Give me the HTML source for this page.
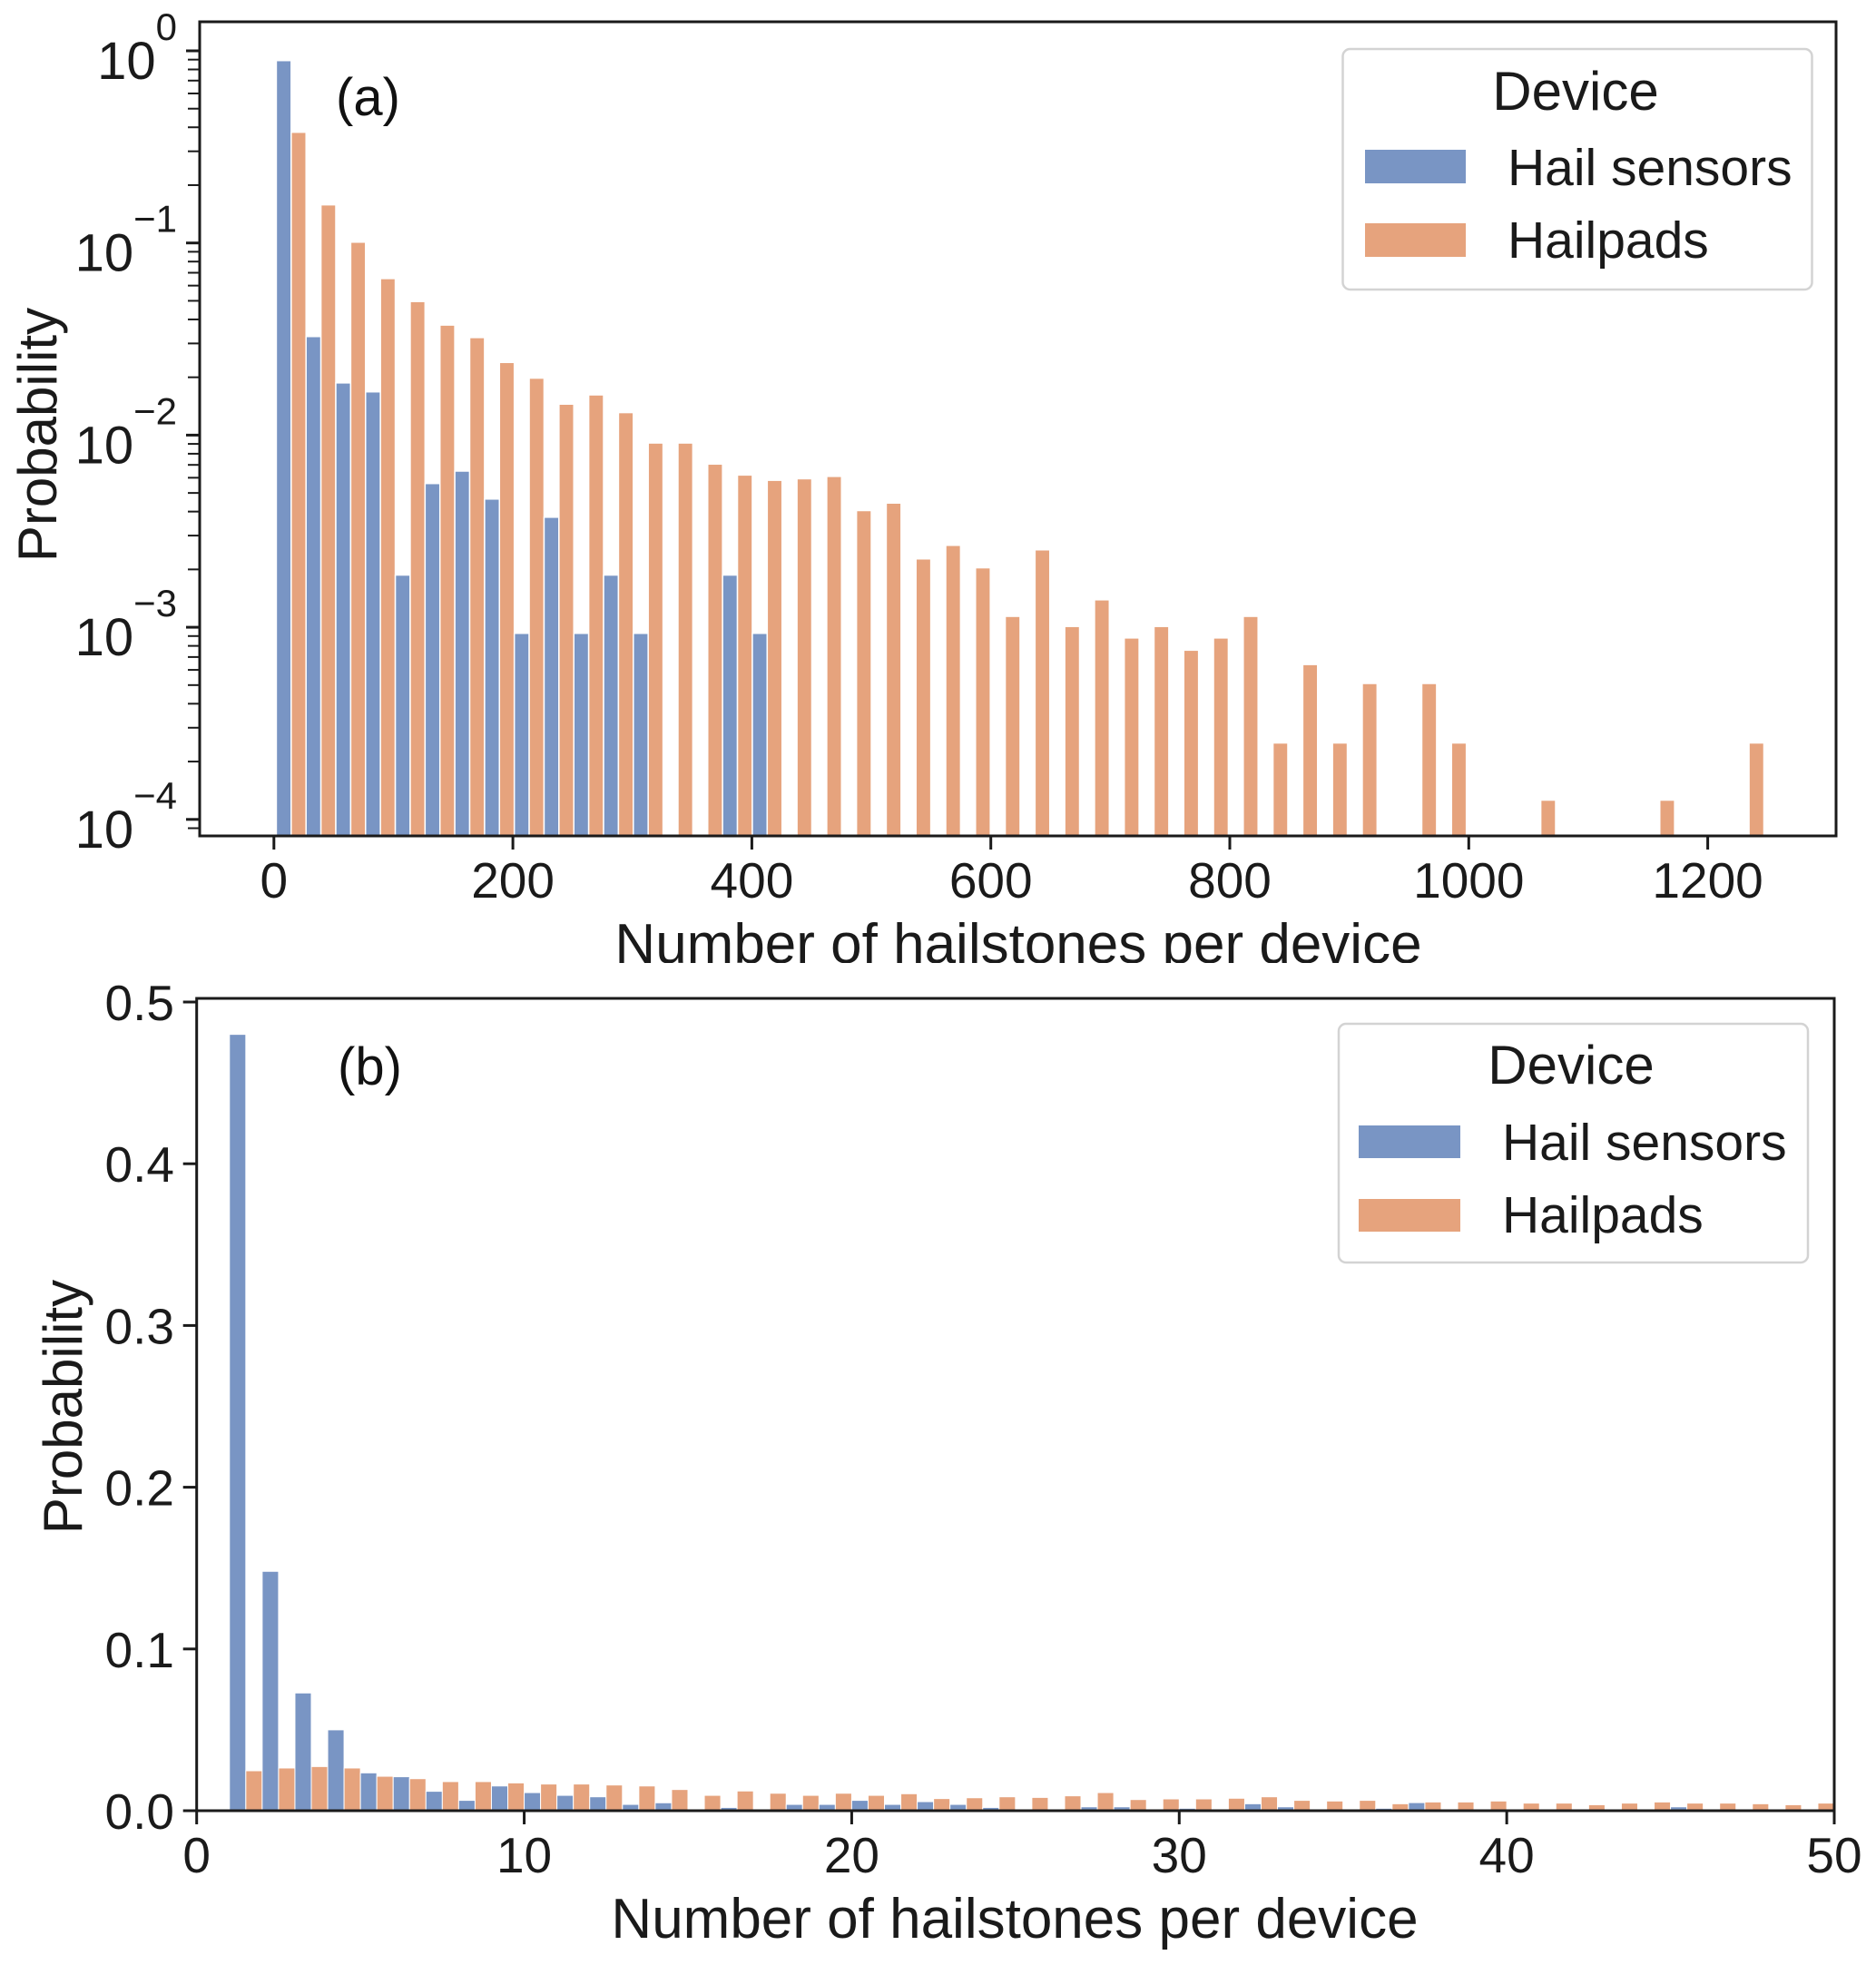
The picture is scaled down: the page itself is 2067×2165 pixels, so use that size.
<!DOCTYPE html>
<html><head><meta charset="utf-8"><style>
html,body{margin:0;padding:0;background:#fff;}
svg{display:block;font-family:"Liberation Sans",Arial,sans-serif;}
</style></head><body>
<svg id="fig" width="2067" height="2165" viewBox="0 0 2067 2165" xmlns="http://www.w3.org/2000/svg">
<defs><clipPath id="clipA"><rect x="0" y="0" width="2067" height="1061"/></clipPath></defs>
<rect width="2067" height="2165" fill="#fff"/>
<g id="panelA"></g>
<g id="panelB"></g>
</svg>
<script>
// ---- Panel (a) data: 50 bins of width ~24.9 starting at 2 ----
const aBinStart = 2;
const aBinWidth = 24.9;
const aSensors = [0.89,0.0326,0.0187,0.0168,0.00187,0.0056,0.0065,0.00465,0.00093,0.00374,0.00093,0.00187,0.00093,0,0,0.00187,0.00093,0,0,0,0,0,0,0,0,0,0,0,0,0,0,0,0,0,0,0,0,0,0,0,0,0,0,0,0,0,0,0,0,0];
const aHailpads = [0.377,0.158,0.101,0.0653,0.0496,0.0374,0.0322,0.0239,0.0198,0.0145,0.0162,0.0131,0.0091,0.0091,0.00707,0.0062,0.00582,0.00593,0.0061,0.00405,0.00443,0.00227,0.00267,0.00204,0.00114,0.00253,0.00101,0.00139,0.00088,0.00101,0.00076,0.00088,0.00114,0.00025,0.00064,0.00025,0.00051,0,0.00051,0.00025,0,0,0.000126,0,0,0,0.000126,0,0,0.00025];
const aXTicks = [0,200,400,600,800,1000,1200];
const aYExps = [0,-1,-2,-3,-4];
// ---- Panel (b) data: bins [k,k+1), k=1..49 ----
const bBins = [1,2,3,4,5,6,7,8,9,10,11,12,13,14,15,16,17,18,19,20,21,22,23,24,25,26,27,28,29,30,31,32,33,34,35,36,37,38,39,40,41,42,43,44,45,46,47,48,49];
const bSensors = [0.48,0.148,0.0728,0.05,0.0234,0.021,0.012,0.0064,0.0153,0.0112,0.0095,0.0086,0.0039,0.0049,0,0.002,0,0.0039,0.0039,0.0064,0.0039,0.0056,0.0039,0.002,0,0,0.0024,0.0024,0,0.0015,0,0.0043,0.0024,0,0,0.0015,0.005,0,0,0,0,0,0,0,0.0024,0,0,0,0];
const bHailpads = [0.0247,0.0264,0.0273,0.0264,0.0213,0.0198,0.018,0.018,0.0172,0.0165,0.0165,0.0159,0.0153,0.0131,0.0095,0.0122,0.0108,0.0095,0.0108,0.0095,0.0105,0.0075,0.008,0.0086,0.0082,0.0092,0.0112,0.0069,0.0073,0.0073,0.0077,0.0086,0.0064,0.006,0.0064,0.0043,0.0054,0.0054,0.006,0.0047,0.0047,0.0037,0.0047,0.0054,0.0047,0.0047,0.0043,0.0037,0.0047];
const bXTicks = [0,10,20,30,40,50];
const bYTicks = [0.0,0.1,0.2,0.3,0.4,0.5];

const NS = "http://www.w3.org/2000/svg";
const BLUE = "#7995c4", ORANGE = "#e6a37d";
function mk(parent, tag, attrs, text) {
  const e = document.createElementNS(NS, tag);
  for (const k in attrs) e.setAttribute(k, attrs[k]);
  if (text !== undefined) e.textContent = text;
  parent.appendChild(e);
  return e;
}

// ---------- Panel A ----------
(function(){
  const g = document.getElementById('panelA');
  const L = 220, R = 2023, T = 24, B = 921;
  const xA = v => 301.8 + v * 1.3165;
  const yA = v => 56 + 211.7 * (-Math.log10(v));
  for (let i = 0; i < aSensors.length; i++) {
    const x0 = aBinStart + aBinWidth * i, xm = x0 + aBinWidth / 2, x1 = x0 + aBinWidth;
    if (aSensors[i] > 0) {
      const r = mk(g, 'rect', {x: xA(x0), y: yA(aSensors[i]), width: xA(xm) - xA(x0), height: B - yA(aSensors[i]), fill: BLUE, stroke: '#fff', 'stroke-width': 1.5});
      
      
    }
    if (aHailpads[i] > 0) {
      const r = mk(g, 'rect', {x: xA(xm), y: yA(aHailpads[i]), width: xA(x1) - xA(xm), height: B - yA(aHailpads[i]), fill: ORANGE, stroke: '#fff', 'stroke-width': 1.5});
      
      
    }
  }
  const fr = mk(g, 'rect', {x: L, y: T, width: R - L, height: B - T, fill: 'none', stroke: '#1a1a1a', 'stroke-width': 3});
  
  
  aXTicks.forEach(t => {
    const x = xA(t);
    const tk = mk(g, 'line', {x1: x, x2: x, y1: B, y2: B + 15, stroke: '#1a1a1a', 'stroke-width': 3});
    
    
    const tl = mk(g, 'text', {x: x, y: 989, 'font-size': 55, 'text-anchor': 'middle', fill: '#1a1a1a'}, String(t));
    
    
  });
  aYExps.forEach(e => {
    const y = yA(Math.pow(10, e));
    const tk = mk(g, 'line', {x1: L - 15, x2: L, y1: y, y2: y, stroke: '#1a1a1a', 'stroke-width': 3});
    
    
    const tl = mk(g, 'text', {x: 195, y: y + 31, 'text-anchor': 'end', fill: '#1a1a1a', 'font-size': 58});
    
    
    mk(tl, 'tspan', {}, '10');
    mk(tl, 'tspan', {dy: -43, 'font-size': 42}, e === 0 ? '0' : '\u2212' + Math.abs(e));
    if (e > -4) {
      for (let m = 2; m <= 9; m++) {
        const ym = yA(m * Math.pow(10, e - 1));
        const mt = mk(g, 'line', {x1: L - 13, x2: L, y1: ym, y2: ym, stroke: '#1a1a1a', 'stroke-width': 2});
        
        
      }
    }
  });
  [9,8].forEach(m => {
    const ym = yA(m * 1e-5);
    if (ym < B) {
      const mt = mk(g, 'line', {x1: L - 13, x2: L, y1: ym, y2: ym, stroke: '#1a1a1a', 'stroke-width': 2});
      
      
    }
  });
  const yl = mk(g, 'text', {x: 0, y: 0, transform: 'translate(62,479) rotate(-90)', 'text-anchor': 'middle', 'font-size': 60, fill: '#1a1a1a'}, 'Probability');
  
  
  const xl = mk(g, 'text', {x: 1122, y: 1061, 'text-anchor': 'middle', 'font-size': 62, fill: '#1a1a1a', 'clip-path': 'url(#clipA)'}, 'Number of hailstones per device');
  
  
  const pl = mk(g, 'text', {x: 370, y: 127, 'font-size': 58, fill: '#111'}, '(a)');
  
  
  const lg = mk(g, 'g', {});
  
  
  mk(lg, 'rect', {x: 1479.5, y: 54, width: 517, height: 265, rx: 8, fill: '#fff', stroke: '#d3d3d3', 'stroke-width': 2.5});
  mk(lg, 'text', {x: 1736, y: 121, 'text-anchor': 'middle', 'font-size': 60, fill: '#1a1a1a'}, 'Device');
  const e1 = mk(lg, 'rect', {x: 1504, y: 165, width: 111, height: 37, fill: BLUE});
  
  
  const t1 = mk(lg, 'text', {x: 1661, y: 204, 'font-size': 57, fill: '#1a1a1a'}, 'Hail sensors');
  
  
  const e2 = mk(lg, 'rect', {x: 1504, y: 246, width: 111, height: 37, fill: ORANGE});
  
  
  const t2 = mk(lg, 'text', {x: 1661, y: 284, 'font-size': 57, fill: '#1a1a1a'}, 'Hailpads');
  
  
})();

// ---------- Panel B ----------
(function(){
  const g = document.getElementById('panelB');
  const L = 216.7, R = 2021, T = 1100, B = 1995;
  const xB = v => 216.7 + v * 36.086;
  const yB = v => 1995 - v * 1782;
  for (let i = 0; i < bBins.length; i++) {
    const k = bBins[i];
    if (bSensors[i] > 0) {
      const r = mk(g, 'rect', {x: xB(k), y: yB(bSensors[i]), width: xB(k + 0.5) - xB(k), height: B - yB(bSensors[i]), fill: BLUE, stroke: '#fff', 'stroke-width': 1});
      
      
    }
    if (bHailpads[i] > 0) {
      const r = mk(g, 'rect', {x: xB(k + 0.5), y: yB(bHailpads[i]), width: xB(k + 1) - xB(k + 0.5), height: B - yB(bHailpads[i]), fill: ORANGE, stroke: '#fff', 'stroke-width': 1});
      
      
    }
  }
  const fr = mk(g, 'rect', {x: L, y: T, width: R - L, height: B - T, fill: 'none', stroke: '#1a1a1a', 'stroke-width': 3});
  
  
  bXTicks.forEach(t => {
    const x = xB(t);
    const tk = mk(g, 'line', {x1: x, x2: x, y1: B, y2: B + 15, stroke: '#1a1a1a', 'stroke-width': 3});
    
    
    const tl = mk(g, 'text', {x: x, y: 2063, 'font-size': 55, 'text-anchor': 'middle', fill: '#1a1a1a'}, String(t));
    
    
  });
  bYTicks.forEach(t => {
    const y = yB(t);
    const tk = mk(g, 'line', {x1: L - 15, x2: L, y1: y, y2: y, stroke: '#1a1a1a', 'stroke-width': 3});
    
    
    const tl = mk(g, 'text', {x: 192, y: y + 20, 'text-anchor': 'end', 'font-size': 55, fill: '#1a1a1a'}, t.toFixed(1));
    
    
  });
  const yl = mk(g, 'text', {x: 0, y: 0, transform: 'translate(90,1550) rotate(-90)', 'text-anchor': 'middle', 'font-size': 60, fill: '#1a1a1a'}, 'Probability');
  
  
  const xl = mk(g, 'text', {x: 1118, y: 2135, 'text-anchor': 'middle', 'font-size': 62, fill: '#1a1a1a'}, 'Number of hailstones per device');
  
  
  const pl = mk(g, 'text', {x: 372, y: 1195, 'font-size': 58, fill: '#111'}, '(b)');
  
  
  const lg = mk(g, 'g', {});
  
  
  mk(lg, 'rect', {x: 1475, y: 1128, width: 517, height: 263, rx: 8, fill: '#fff', stroke: '#d3d3d3', 'stroke-width': 2.5});
  mk(lg, 'text', {x: 1731, y: 1194, 'text-anchor': 'middle', 'font-size': 60, fill: '#1a1a1a'}, 'Device');
  const e1 = mk(lg, 'rect', {x: 1497, y: 1240, width: 112, height: 36, fill: BLUE});
  
  
  const t1 = mk(lg, 'text', {x: 1655, y: 1278, 'font-size': 57, fill: '#1a1a1a'}, 'Hail sensors');
  
  
  const e2 = mk(lg, 'rect', {x: 1497, y: 1321, width: 112, height: 36, fill: ORANGE});
  
  
  const t2 = mk(lg, 'text', {x: 1655, y: 1358, 'font-size': 57, fill: '#1a1a1a'}, 'Hailpads');
  
  
})();
</script>
</body></html>
